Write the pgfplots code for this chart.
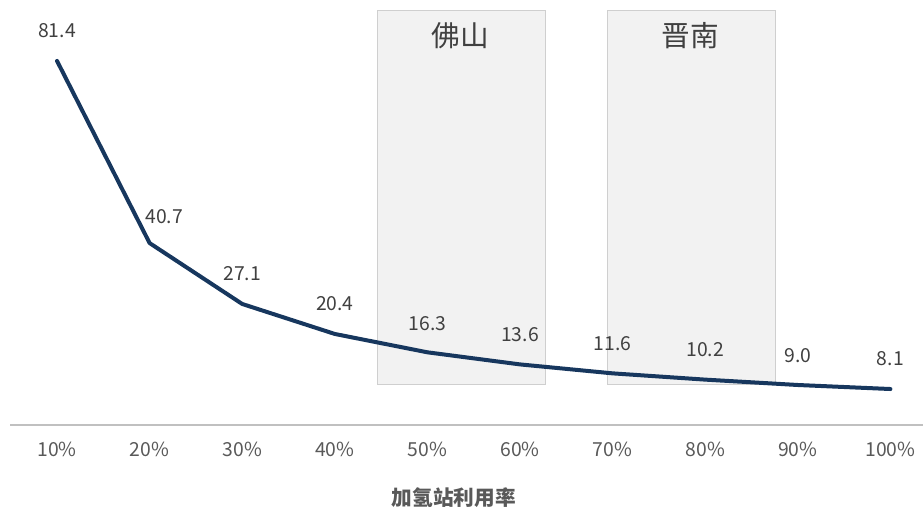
\documentclass[border=0pt]{standalone}
\usepackage{pgfplots}
\pgfplotsset{compat=1.18}
\usepackage{pgfplotstable}
\usepackage{fontspec}
\setmainfont{Noto Sans CJK SC}
\definecolor{lineblue}{HTML}{17375E}
\definecolor{txt}{HTML}{404040}
\definecolor{ticktxt}{HTML}{595959}
\definecolor{boxfill}{HTML}{F2F2F2}
\definecolor{boxline}{HTML}{CFCFCF}
\definecolor{axgray}{HTML}{C0C0C0}
\pgfplotstableread{
x y lab dx dy
1 81.4 81.4 0 17.2
2 40.7 40.7 11 15
3 27.1 27.1 0 17.5
4 20.4 20.4 0 17.5
5 16.3 16.3 0 16.5
6 13.6 13.6 0 17
7 11.6 11.6 0 17
8 10.2 10.2 0 17
9 9.0 9.0 0 17
10 8.1 8.1 0 17.5
}\datatable
\begin{document}
\begin{tikzpicture}
\begin{axis}[
  scale only axis,
  width=684.75pt, height=311.25pt,
  xmin=0.4924, xmax=10.352,
  ymin=0, ymax=92.7,
  clip=false,
  axis y line=none,
  axis x line=bottom,
  x axis line style={draw=axgray, line width=1.5pt, -},
  xtick={1,2,3,4,5,6,7,8,9,10},
  xticklabels={10\%,20\%,30\%,40\%,50\%,60\%,70\%,80\%,90\%,100\%},
  /pgf/number format/assume math mode=true,
  major tick length=0pt,
  xticklabel style={anchor=base, yshift=-23.25pt, font=\fontsize{14.5}{16}\selectfont, text=ticktxt},
  xlabel={加氢站利用率},
  xlabel style={at={(rel axis cs:0.4863,0)}, anchor=center, yshift=-54.4pt, font=\fontsize{15.5}{17}\selectfont\bfseries, text=ticktxt},
]
% shaded regions
\draw[fill=boxfill, draw=boxline, line width=0.75pt] (axis cs:4.456,9.16) rectangle (axis cs:6.270,92.7);
\draw[fill=boxfill, draw=boxline, line width=0.75pt] (axis cs:6.940,9.16) rectangle (axis cs:8.754,92.7);
\node[text=txt, font=\fontsize{21.5}{23}\selectfont] at (axis cs:5.359,87.1) {佛山};
\node[text=txt, font=\fontsize{21.5}{23}\selectfont] at (axis cs:6.841+0.0,87.0) {};
\node[text=txt, font=\fontsize{21.5}{23}\selectfont] at (axis cs:7.841,87.0) {晋南};
% line with labels
\addplot[lineblue, line width=3pt, line join=round, line cap=round,
  mark=none,
  point meta=explicit symbolic,
  visualization depends on={\thisrow{dx} \as \dx},
  visualization depends on={\thisrow{dy} \as \dy},
  nodes near coords,
  nodes near coords style={anchor=base, inner sep=0pt, xshift=\dx pt, yshift=\dy pt, text=txt, font=\fontsize{14.5}{16}\selectfont},
] table[x=x, y=y, meta=lab] {\datatable};
\coordinate (bl) at (axis cs:0.3844,-19.17);
\coordinate (tr) at (axis cs:10.352,95.0);
\end{axis}
\pgfresetboundingbox
\path[use as bounding box] (bl) rectangle (tr);
\end{tikzpicture}
\end{document}
